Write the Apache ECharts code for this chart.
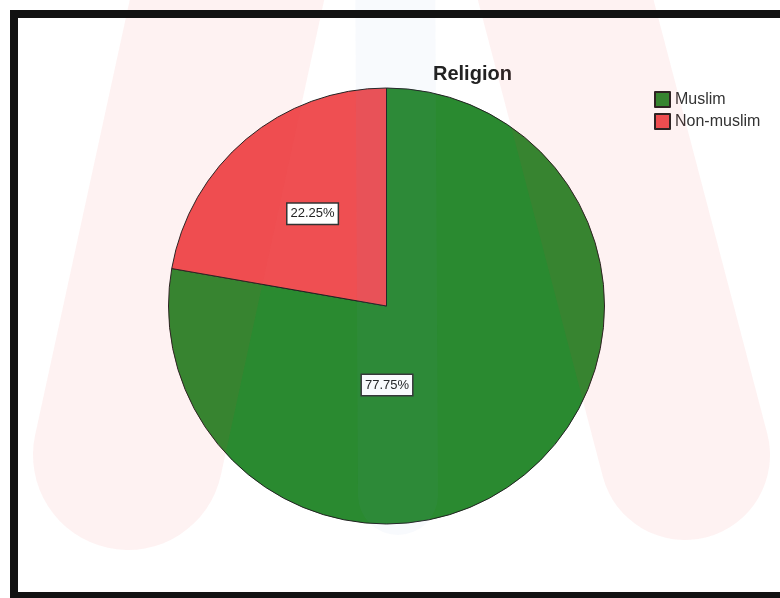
<!DOCTYPE html>
<html>
<head>
<meta charset="utf-8">
<script src="https://cdn.jsdelivr.net/npm/echarts@6/dist/echarts.min.js"></script>
<style>
  html, body { margin: 0; padding: 0; background: #fff; }
  #chart { width: 780px; height: 598px; }
</style>
</head>
<body>
<div id="chart"></div>
<script>
var categories = ["Muslim", "Non-muslim"];
var shares = [77.75, 22.25];
var colors = ["#2a8a30", "#ef4f52"];

var cx = 386.5, cy = 306, rad = 218;

var myChart = echarts.init(document.getElementById("chart"), null, { renderer: "canvas" });

var option = {
  backgroundColor: "#ffffff",
  animation: false,
  title: {
    text: "Religion",
    left: 428,
    top: 59,
    textStyle: {
      fontFamily: "Liberation Sans, Arial, sans-serif",
      fontSize: 20,
      fontWeight: "bold",
      color: "#222",
    },
  },
  legend: {
    orient: "vertical",
    left: 654,
    top: 91,
    padding: 0,
    icon: "rect",
    itemWidth: 15,
    itemHeight: 15,
    itemGap: 5,
    textStyle: {
      fontFamily: "Liberation Sans, Arial, sans-serif",
      fontSize: 16,
      color: "#333",
    },
    data: categories,
  },
  series: [
    {
      type: "pie",
      center: [cx, cy],
      radius: rad,
      startAngle: 90,
      clockwise: true,
      silent: true,
      data: categories.map(function (c, i) {
        return { name: c, value: shares[i], itemStyle: { color: colors[i] } };
      }),
      itemStyle: {
        borderColor: "#222",
        borderWidth: 1,
      },
      label: {
        position: "inside",
        formatter: function (p) {
          return p.value.toFixed(2) + "%";
        },
        fontFamily: "Liberation Sans, Arial, sans-serif",
        fontSize: 13,
        color: "#222",
        backgroundColor: "#fff",
        borderColor: "#333",
        borderWidth: 1.5,
        padding: [4, 3, 3, 3],
      },
      labelLine: { show: false },
      labelLayout: function (params) {
        // SPSS style placement: small slice near its middle, large one under the centre
        if (params.dataIndex === 0) {
          return { x: cx + 0.5, y: cy + 79, align: "center", verticalAlign: "middle" };
        }
        var mid = 90 + (shares[1] / 100) * 360 / 2;
        var a = (mid * Math.PI) / 180;
        return {
          x: cx + Math.cos(a) * 118 + 2,
          y: cy - Math.sin(a) * 118 - 2,
          align: "center",
          verticalAlign: "middle",
        };
      },
    },
  ],
  graphic: [
    // faint watermark shapes laid over the picture
    {
      type: "polyline",
      silent: true,
      z: 100,
      shape: { points: [[240, -60], [128, 455]] },
      style: { stroke: "rgba(235,60,60,0.065)", lineWidth: 190, lineCap: "round", fill: null },
    },
    {
      type: "polyline",
      silent: true,
      z: 100,
      shape: { points: [[550, -60], [685, 455]] },
      style: { stroke: "rgba(235,60,60,0.065)", lineWidth: 170, lineCap: "round", fill: null },
    },
    {
      type: "polyline",
      silent: true,
      z: 100,
      shape: { points: [[395, -60], [398, 495]] },
      style: { stroke: "rgba(110,160,215,0.05)", lineWidth: 80, lineCap: "round", fill: null },
    },
    // black frame
    { type: "rect", silent: true, z: 110, shape: { x: 10, y: 10, width: 770, height: 8 }, style: { fill: "#121212" } },
    { type: "rect", silent: true, z: 110, shape: { x: 10, y: 10, width: 8, height: 588 }, style: { fill: "#121212" } },
    { type: "rect", silent: true, z: 110, shape: { x: 10, y: 592, width: 770, height: 6 }, style: { fill: "#121212" } },
  ],
};

option && myChart.setOption(option);
</script>
</body>
</html>
